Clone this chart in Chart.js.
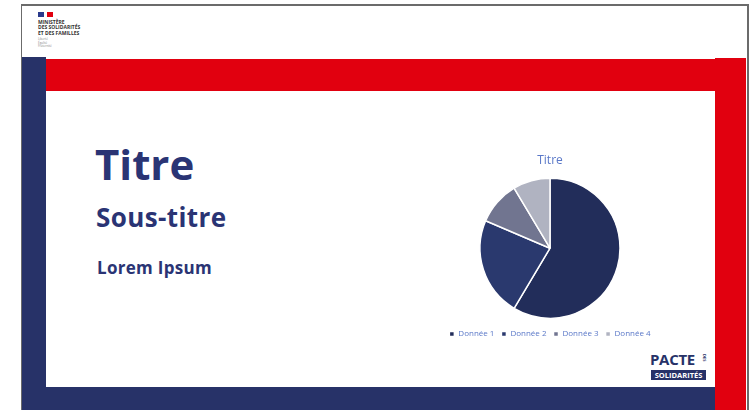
<!DOCTYPE html>
<html lang="fr">
<head>
<meta charset="utf-8">
<script src="https://cdn.jsdelivr.net/npm/chart.js@4/dist/chart.umd.min.js"></script>
<style>
  html, body { margin: 0; padding: 0; background: #fff; }
  body { width: 753px; height: 410px; position: relative; overflow: hidden; font-family: "Open Sans", Lato, sans-serif; }
  .abs { position: absolute; }
  .frame { left: 21px; top: 4px; width: 725px; height: 420px; border-top: 2px solid #6b6b6b; border-left: 1px solid #6b6b6b; border-right: 2px solid #6b6b6b; }
  .navy { background: #273268; }
  .red { background: #e1000f; }
  .txt { color: #2a3474; font-weight: 700; white-space: nowrap; }
  #chartBox { left: 420px; top: 149px; width: 260px; height: 201px; }
</style>
</head>
<body>
<div class="abs frame"></div>

<!-- header logo -->
<div class="abs" style="left:38px;top:12px;width:6px;height:5px;background:#2a3a8c"></div>
<div class="abs" style="left:47px;top:12px;width:6px;height:5px;background:#e1000f"></div>
<div class="abs txt" style="left:38px;top:20px;font-size:5px;line-height:5.3px;color:#333">MINISTÈRE<br>DES SOLIDARITÉS<br>ET DES FAMILLES</div>
<div class="abs" style="left:38px;top:38px;font-size:3px;line-height:3.6px;color:#888">Liberté<br>Égalité<br>Fraternité</div>

<!-- slide frame -->
<div class="abs navy" style="left:22px;top:57px;width:24px;height:353px"></div>
<div class="abs red" style="left:46px;top:59px;width:670px;height:32px"></div>
<div class="abs red" style="left:715px;top:58px;width:31px;height:352px"></div>
<div class="abs navy" style="left:46px;top:387px;width:669px;height:23px"></div>

<!-- slide texts -->
<div class="abs txt" style="left:95px;top:136px;font-size:42px;line-height:56px;">Titre</div>
<div class="abs txt" style="left:96px;top:199px;font-size:26px;line-height:36px;letter-spacing:0.4px;">Sous-titre</div>
<div class="abs txt" style="left:97px;top:256px;font-size:17px;line-height:24px;letter-spacing:0.3px;">Lorem Ipsum</div>

<!-- pacte logo -->
<div class="abs txt" style="left:650px;top:352px;font-size:15px;line-height:14px;letter-spacing:-0.3px;color:#273268">PACTE</div>
<div class="abs txt" style="left:702px;top:354px;font-size:4px;line-height:4px;color:#273268;writing-mode:vertical-rl">DES</div>
<div class="abs txt" style="left:651px;top:370px;width:55px;height:10px;background:#273268;color:#fff;font-size:7.5px;line-height:10px;text-align:center">SOLIDARITÉS</div>

<div id="chartBox" class="abs"><canvas id="pie"></canvas></div>

<script>
const labels = ["Donnée 1", "Donnée 2", "Donnée 3", "Donnée 4"];
const values = [8.2, 3.2, 1.4, 1.2];
const sliceColors = ["#222d5a", "#2a396e", "#717590", "#b0b3c1"];
const chartTitle = "Titre";

const TEXT_BLUE = "#5a78c8";

new Chart(document.getElementById("pie"), {
    type: "pie",
    data: {
        labels: labels,
        datasets: [{
            data: values,
            backgroundColor: sliceColors,
            borderColor: "#ffffff",
            borderWidth: 1.5,
        }],
    },
    options: {
        responsive: true,
        maintainAspectRatio: false,
        animation: false,
        radius: 70,
        layout: { padding: { top: 2, bottom: 2 } },
        plugins: {
            title: {
                display: true,
                text: chartTitle,
                color: TEXT_BLUE,
                font: { family: "Open Sans", size: 12, weight: "normal" },
                padding: { top: 2, bottom: 6 },
            },
            legend: {
                position: "bottom",
                labels: {
                    color: TEXT_BLUE,
                    font: { family: "Open Sans", size: 8 },
                    boxWidth: 5,
                    boxHeight: 5,
                    padding: 7,
                },
            },
            tooltip: { enabled: false },
        },
    },
});
</script>
</body>
</html>
